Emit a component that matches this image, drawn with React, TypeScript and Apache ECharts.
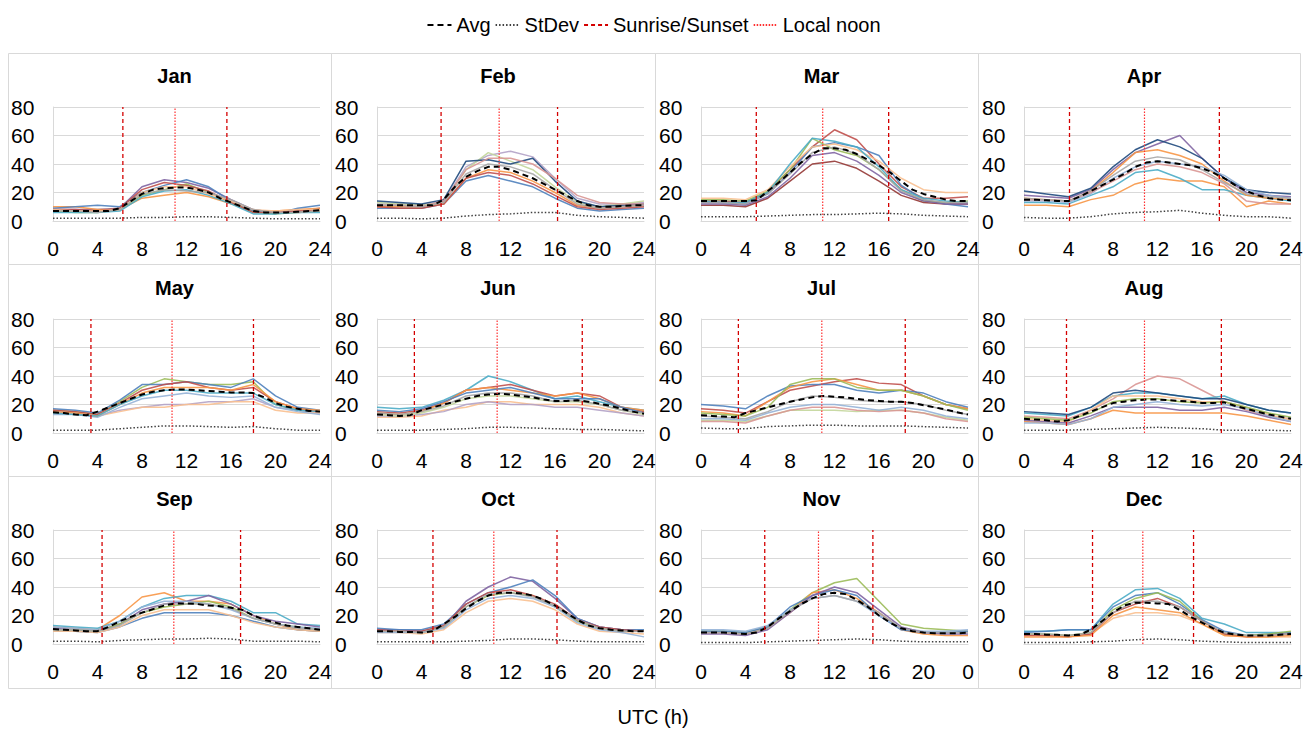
import React, { useEffect, useRef } from 'react';
import * as echarts from 'echarts';

// ---------- data ----------
const MONTHS = ['Jan', 'Feb', 'Mar', 'Apr', 'May', 'Jun', 'Jul', 'Aug', 'Sep', 'Oct', 'Nov', 'Dec'];
const HOURS_1H = [0, 1, 2, 3, 4, 5, 6, 7, 8, 9, 10, 11, 12, 13, 14, 15, 16, 17, 18, 19, 20, 21, 22, 23, 24];
const HOURS_2H = [0, 2, 4, 6, 8, 10, 12, 14, 16, 18, 20, 22, 24];

const SUNRISE = [6.28, 5.76, 4.97, 4.09, 3.41, 3.36, 3.36, 3.82, 4.41, 5.03, 5.73, 6.16];
const SUNSET = [15.63, 16.23, 16.87, 17.56, 18.02, 18.45, 18.36, 17.74, 16.86, 16.18, 15.45, 15.24];
const LOCAL_NOON = [10.97, 10.98, 10.94, 10.83, 10.7, 10.8, 10.86, 10.83, 10.86, 10.5, 10.56, 10.68];

const X_TICKS_STD = ['0', '4', '8', '12', '16', '20', '24'];
const X_TICKS_WRAP = ['0', '4', '8', '12', '16', '20', '0'];
const Y_TICKS = [0, 20, 40, 60, 80];

const AVG_BY_MONTH = [
  [7, 7, 7, 7, 7, 7, 9, 14, 19, 22, 23, 23.5, 23.5, 22, 20, 16, 13, 10, 7, 6, 6, 6, 6.5, 7, 7.5],
  [11, 11, 11, 11, 11, 11, 15, 24, 31, 35, 38, 38, 36, 33, 30, 26, 22, 18, 14, 11, 10, 10, 10.5, 11, 11],
  [14, 14, 14, 14, 14, 14.5, 21, 27, 34, 41, 47, 51, 51, 50, 47, 43, 39, 34, 28, 22, 19, 17, 15, 14, 14],
  [15, 15, 14.5, 14, 14, 17, 21, 25, 29, 33, 38, 41, 42, 41, 40, 39, 37, 34, 30, 25, 21, 18, 16, 15, 14.5],
  [14.5, 14, 13, 12.5, 15, 18, 21, 24, 27, 29, 30, 30.5, 30.5, 30, 29.5, 29, 28.5, 28.5, 28, 25, 21, 18.5, 17, 15.5, 15],
  [13, 12.5, 12, 12.5, 16, 18, 20, 22, 24, 26, 27, 27.5, 27, 26, 25, 23.5, 22.5, 22.5, 23, 22, 20.5, 19, 17, 15, 13.5],
  [12.5, 12, 11.5, 11, 14, 16, 18, 20, 22, 23.5, 25, 26, 25.5, 25, 24, 23, 22.5, 22, 22, 21, 19.5, 18, 16.5, 14.5, 13],
  [10, 9.5, 9, 8, 9, 12, 15, 18, 21, 22, 23, 23.5, 23.5, 23, 22.5, 22, 21, 21, 21.5, 19, 17, 15, 13, 11.5, 10],
  [10.5, 10, 9.5, 9, 9, 12, 16, 19, 22, 24.5, 27, 28.5, 28.5, 28, 27, 26.5, 25.5, 24, 20, 17, 15, 13, 12, 11, 10],
  [9, 9, 8.5, 8.5, 8, 9, 14, 19, 25, 30, 34, 36, 36, 35.5, 34, 31, 27, 22, 17, 13, 11, 10, 9.5, 9, 9],
  [8, 8, 8, 7.5, 7, 8, 12, 18, 23, 28, 32, 35, 36, 35, 31, 26, 20, 15, 11, 9, 8, 7.5, 7.5, 7.5, 8],
  [7, 7, 6.5, 6.5, 6, 6.5, 10, 16, 22, 27, 29, 29, 28.5, 28, 24, 19, 15, 11, 8, 6.5, 6, 6, 6, 6.5, 7],
];

const STDEV_BY_MONTH = [
  [2, 2, 2, 2, 2.5, 2.5, 3, 3, 2.5, 2, 1.5, 1.5, 1.5],
  [2, 2, 1.5, 2, 3.5, 4.5, 5, 6, 6, 4, 3, 2.5, 2],
  [3, 3, 3, 3.5, 4, 4.5, 4.5, 5, 5.5, 5, 4, 3.5, 3],
  [2.5, 2, 2, 3, 5, 6, 6.5, 7.5, 5.5, 4, 3, 3, 2],
  [2, 2, 2, 3, 4, 5, 5, 4.5, 4, 4.5, 3, 2, 2],
  [2, 2, 2, 2.5, 3, 4, 4, 3.5, 3, 2.5, 2.5, 2, 1.5],
  [3.5, 3, 3, 4.5, 5, 5.5, 5.5, 5, 5, 5, 4.5, 4, 3.5],
  [2, 2, 2, 2.5, 3, 3.5, 4, 3.5, 3, 2, 2, 2, 1.5],
  [2, 2, 1.5, 2.5, 3, 3.5, 3.5, 4, 3.5, 2, 2, 2, 1.5],
  [1.5, 1.5, 1.5, 1.5, 2, 2.5, 3.5, 3.5, 3, 2, 1.5, 1.5, 1.5],
  [1, 1, 1, 1.5, 2, 2.5, 3, 3.5, 3, 2, 1.5, 1.5, 1.5],
  [1, 1, 1, 1.5, 2, 3, 3.5, 3, 2, 1.5, 1, 1, 1],
];

// daily profiles (values at HOURS_2H)
const DAYS_JAN = [
  [8, 8, 8, 9, 24, 29, 27, 23, 15, 8, 6, 7, 9],
  [10, 10, 8, 8, 16, 18, 20, 17, 12, 7, 7, 8, 9],
  [9, 10, 11, 10, 20, 25, 29, 24, 14, 7, 5, 9, 11],
  [7, 6, 6, 8, 18, 22, 26, 20, 13, 6, 5, 6, 7],
  [8, 8, 7, 9, 22, 27, 25, 21, 13, 6, 6, 7, 8],
  [6, 6, 6, 7, 17, 21, 22, 18, 12, 5, 5, 6, 6],
  [8, 7, 7, 8, 20, 24, 24, 19, 14, 8, 7, 8, 8],
  [7, 7, 6, 8, 19, 22, 21, 20, 15, 8, 6, 6, 7],
];
const DAYS_FEB = [
  [12, 12, 11, 14, 38, 46, 49, 45, 30, 16, 12, 12, 13],
  [9, 9, 9, 12, 28, 32, 28, 24, 16, 9, 7, 8, 9],
  [13, 12, 11, 13, 36, 48, 42, 36, 24, 13, 10, 12, 14],
  [10, 10, 10, 12, 30, 36, 34, 28, 20, 11, 9, 10, 11],
  [14, 13, 12, 15, 42, 43, 40, 44, 28, 14, 10, 11, 12],
  [11, 11, 10, 14, 36, 44, 44, 40, 30, 18, 13, 12, 12],
  [10, 9, 9, 12, 30, 34, 32, 26, 18, 10, 8, 9, 10],
  [11, 11, 10, 13, 33, 40, 38, 33, 22, 12, 9, 10, 11],
];
const DAYS_MAR = [
  [14, 14, 13, 20, 36, 52, 64, 57, 40, 24, 16, 16, 17],
  [11, 11, 10, 16, 28, 40, 42, 37, 28, 18, 13, 12, 12],
  [13, 13, 12, 19, 34, 52, 55, 52, 46, 25, 15, 12, 10],
  [15, 15, 14, 21, 36, 58, 50, 46, 36, 22, 14, 13, 14],
  [16, 16, 15, 22, 38, 52, 54, 50, 42, 30, 22, 20, 20],
  [14, 13, 13, 20, 40, 58, 56, 52, 38, 22, 16, 14, 13],
  [12, 12, 11, 17, 30, 46, 48, 42, 32, 20, 14, 12, 12],
  [13, 13, 12, 19, 33, 48, 52, 47, 36, 21, 15, 13, 13],
];
const DAYS_APR = [
  [18, 17, 16, 22, 36, 48, 54, 60, 44, 30, 20, 18, 17],
  [11, 11, 10, 15, 18, 26, 30, 28, 28, 24, 10, 14, 12],
  [21, 19, 17, 23, 38, 50, 57, 52, 44, 30, 22, 20, 19],
  [13, 13, 12, 18, 24, 34, 36, 30, 22, 22, 18, 16, 14],
  [16, 15, 14, 21, 34, 48, 50, 46, 40, 28, 18, 16, 15],
  [14, 14, 13, 19, 30, 38, 42, 40, 38, 32, 22, 18, 16],
  [15, 15, 14, 20, 28, 36, 40, 38, 34, 26, 14, 12, 12],
  [16, 15, 14, 21, 32, 42, 45, 43, 36, 27, 19, 17, 16],
];
const DAYS_MAY = [
  [16, 15, 13, 22, 32, 38, 36, 34, 34, 36, 20, 16, 15],
  [15, 14, 12, 16, 18, 20, 20, 22, 22, 24, 18, 16, 14],
  [17, 16, 14, 23, 34, 34, 36, 34, 32, 38, 26, 18, 16],
  [14, 13, 12, 15, 18, 18, 20, 20, 22, 22, 16, 14, 14],
  [16, 15, 13, 21, 30, 34, 36, 32, 30, 32, 22, 17, 15],
  [13, 13, 11, 18, 24, 26, 28, 26, 25, 26, 18, 15, 13],
  [15, 14, 12, 20, 28, 32, 32, 32, 30, 34, 22, 17, 16],
  [14, 13, 12, 20, 26, 30, 30, 28, 28, 28, 20, 16, 15],
];
const DAYS_JUN = [
  [18, 17, 18, 23, 30, 40, 36, 30, 24, 26, 22, 18, 16],
  [11, 11, 12, 16, 18, 22, 22, 20, 20, 20, 18, 14, 12],
  [15, 14, 16, 21, 30, 32, 34, 30, 26, 28, 26, 18, 15],
  [14, 13, 15, 21, 30, 32, 30, 28, 26, 28, 24, 18, 16],
  [12, 12, 13, 15, 20, 22, 20, 20, 18, 18, 16, 14, 12],
  [16, 15, 17, 22, 28, 30, 32, 28, 24, 24, 24, 18, 14],
  [13, 12, 14, 18, 24, 26, 26, 24, 22, 22, 20, 16, 13],
  [14, 13, 15, 19, 26, 28, 28, 26, 22, 23, 20, 16, 14],
];
const DAYS_JUL = [
  [17, 16, 14, 22, 30, 33, 36, 38, 35, 34, 26, 20, 17],
  [9, 9, 8, 12, 16, 16, 16, 15, 16, 16, 14, 11, 9],
  [20, 19, 17, 26, 33, 34, 34, 30, 28, 30, 28, 22, 18],
  [15, 14, 12, 22, 32, 36, 38, 34, 30, 30, 26, 20, 17],
  [10, 10, 9, 14, 18, 20, 20, 18, 16, 18, 16, 12, 10],
  [14, 13, 12, 18, 34, 38, 38, 32, 30, 30, 26, 20, 16],
  [8, 8, 7, 12, 16, 18, 18, 16, 15, 16, 14, 10, 8],
  [12, 11, 10, 15, 22, 26, 25, 23, 22, 22, 20, 16, 13],
];
const DAYS_AUG = [
  [12, 11, 10, 16, 24, 34, 40, 38, 30, 22, 16, 12, 10],
  [8, 7, 6, 10, 16, 14, 14, 14, 14, 14, 12, 9, 6],
  [14, 13, 12, 18, 26, 28, 28, 26, 24, 26, 20, 16, 14],
  [15, 14, 13, 18, 28, 30, 28, 26, 24, 24, 20, 16, 14],
  [9, 8, 7, 12, 18, 18, 18, 16, 16, 18, 15, 11, 8],
  [10, 9, 8, 16, 26, 26, 26, 24, 22, 22, 18, 13, 9],
  [7, 7, 6, 10, 18, 20, 22, 20, 19, 20, 17, 12, 8],
  [11, 10, 9, 14, 22, 24, 24, 22, 21, 22, 18, 14, 11],
];
const DAYS_SEP = [
  [12, 11, 10, 20, 33, 36, 30, 30, 28, 20, 14, 10, 9],
  [9, 9, 8, 12, 18, 22, 22, 22, 20, 16, 12, 10, 9],
  [13, 12, 11, 16, 26, 32, 34, 34, 30, 22, 22, 14, 13],
  [11, 10, 9, 14, 24, 28, 30, 34, 28, 20, 16, 14, 12],
  [10, 10, 9, 14, 22, 26, 28, 30, 26, 18, 14, 12, 10],
  [12, 11, 10, 16, 26, 30, 30, 28, 24, 18, 14, 12, 11],
  [9, 9, 8, 12, 20, 24, 24, 24, 20, 15, 12, 10, 9],
  [10, 10, 9, 13, 22, 28, 28, 28, 25, 18, 14, 11, 10],
];
const DAYS_OCT = [
  [10, 10, 9, 12, 30, 40, 47, 44, 32, 18, 12, 10, 9],
  [11, 10, 10, 14, 28, 36, 40, 45, 34, 18, 12, 10, 10],
  [8, 8, 7, 10, 22, 30, 32, 30, 24, 14, 9, 8, 7],
  [9, 9, 8, 12, 26, 34, 36, 34, 26, 16, 11, 9, 9],
  [10, 9, 9, 13, 28, 36, 38, 34, 28, 17, 12, 10, 9],
  [8, 8, 8, 11, 24, 32, 34, 32, 26, 15, 10, 8, 5],
  [9, 9, 8, 12, 26, 35, 36, 33, 27, 17, 11, 9, 9],
];
const DAYS_NOV = [
  [9, 9, 8, 12, 24, 36, 43, 46, 30, 14, 11, 10, 9],
  [8, 8, 7, 11, 22, 36, 38, 32, 22, 10, 7, 6, 6],
  [9, 9, 8, 12, 26, 34, 38, 34, 20, 10, 8, 8, 9],
  [10, 10, 9, 13, 24, 32, 34, 30, 20, 11, 9, 9, 10],
  [7, 7, 6, 10, 22, 34, 40, 36, 24, 12, 8, 7, 7],
  [8, 8, 7, 11, 23, 32, 34, 30, 22, 11, 8, 8, 8],
];
const DAYS_DEC = [
  [9, 9, 10, 10, 28, 38, 39, 32, 18, 14, 8, 8, 8],
  [6, 6, 5, 7, 18, 22, 22, 20, 14, 6, 5, 5, 5],
  [8, 9, 10, 10, 26, 34, 36, 28, 17, 9, 6, 7, 8],
  [7, 7, 6, 8, 24, 32, 36, 30, 16, 7, 6, 7, 9],
  [6, 6, 5, 7, 22, 28, 32, 26, 16, 7, 5, 6, 7],
  [5, 5, 5, 6, 20, 26, 24, 22, 14, 6, 5, 5, 6],
  [7, 7, 6, 8, 22, 30, 30, 26, 16, 8, 6, 6, 7],
];
const DAYS_BY_MONTH = [DAYS_JAN, DAYS_FEB, DAYS_MAR, DAYS_APR, DAYS_MAY, DAYS_JUN, DAYS_JUL, DAYS_AUG, DAYS_SEP, DAYS_OCT, DAYS_NOV, DAYS_DEC];

// ---------- styles ----------
const PALETTE: Record<string, string> = {
  blue: '#4F81BD', red: '#C0504D', green: '#9BBB59', purple: '#8064A2', teal: '#4BACC6', orange: '#F79646',
  darkblue: '#1F497D', darkred: '#953735', lightblue: '#95B3D7', pink: '#D99694', lightgreen: '#C3D69B',
  lightpurple: '#B3A2C7', lightorange: '#FAC090', gray: '#A6A6A6',
};
const LINE_COLORS = [
  ['purple', 'orange', 'blue', 'green', 'red', 'teal', 'lightorange', 'gray'],
  ['lightpurple', 'blue', 'lightgreen', 'orange', 'darkblue', 'pink', 'red', 'gray'],
  ['red', 'darkred', 'blue', 'green', 'lightorange', 'teal', 'purple', 'gray'],
  ['purple', 'orange', 'darkblue', 'teal', 'orange', 'lightblue', 'pink', 'gray'],
  ['green', 'lightpurple', 'blue', 'lightorange', 'red', 'lightblue', 'orange', 'teal'],
  ['teal', 'lightorange', 'red', 'orange', 'lightpurple', 'blue', 'lightgreen', 'gray'],
  ['red', 'lightgreen', 'blue', 'orange', 'lightblue', 'green', 'pink', 'gray'],
  ['pink', 'orange', 'teal', 'darkblue', 'purple', 'lightorange', 'lightblue', 'green'],
  ['orange', 'blue', 'teal', 'purple', 'green', 'lightblue', 'lightorange', 'gray'],
  ['purple', 'blue', 'lightorange', 'green', 'red', 'lightblue', 'gray'],
  ['green', 'orange', 'blue', 'lightblue', 'purple', 'gray'],
  ['teal', 'lightorange', 'blue', 'green', 'red', 'orange', 'gray'],
];

const FONT = "'Liberation Sans', Arial, sans-serif";
const COL_LEFT = [53, 377, 701, 1024];
const ROW_TOP = [107, 319, 530];
const PLOT_W = 267;
const PLOT_H = 114;
const PANEL_X = [8, 331, 655, 978, 1300];
const PANEL_Y = [53, 264, 476, 688];

function refLine(name: string, i: number, data: number[][], color: string, width: number, type: any, z: number) {
  return {
    name, type: 'line', xAxisIndex: i, yAxisIndex: i, symbol: 'none', silent: true, z, data,
    lineStyle: { width, color, type },
    itemStyle: { color, opacity: 0 },
  };
}

function buildOption() {
  const grid: any[] = [];
  const xAxis: any[] = [];
  const yAxis: any[] = [];
  const title: any[] = [];
  const series: any[] = [];
  const graphic: any[] = [];

  MONTHS.forEach((m, i) => {
    const col = i % 4;
    const row = Math.floor(i / 4);
    const ticks = i === 6 || i === 10 ? X_TICKS_WRAP : X_TICKS_STD;
    grid.push({ left: COL_LEFT[col], top: ROW_TOP[row], width: PLOT_W, height: PLOT_H });
    xAxis.push({
      type: 'value', gridIndex: i, min: 0, max: 24, interval: 4,
      axisLine: { show: true, lineStyle: { color: '#d9d9d9', width: 1 } },
      axisTick: { show: false }, splitLine: { show: false },
      axisLabel: {
        fontSize: 21, color: '#000', fontFamily: FONT, margin: 17, showMinLabel: true, showMaxLabel: true,
        formatter: (v: number) => ticks[Math.round(v / 4)] ?? '',
      },
    });
    yAxis.push({
      type: 'value', gridIndex: i, min: Y_TICKS[0], max: Y_TICKS[Y_TICKS.length - 1], interval: 20,
      axisLine: { show: true, lineStyle: { color: '#d9d9d9', width: 1 } },
      axisTick: { show: false },
      splitLine: { show: true, lineStyle: { color: '#d9d9d9', width: 1 } },
      axisLabel: { fontSize: 21, color: '#000', fontFamily: FONT, margin: 42, align: 'left' },
    });
    const cx = (PANEL_X[col] + PANEL_X[col + 1]) / 2;
    title.push({
      text: m, left: cx, top: ROW_TOP[row] - 46, textAlign: 'center',
      textStyle: { fontSize: 20, fontWeight: 'bold', color: '#000', fontFamily: FONT },
    });

    DAYS_BY_MONTH[i].forEach((vals, k) => {
      series.push({
        type: 'line', xAxisIndex: i, yAxisIndex: i, symbol: 'none', silent: true, z: 2,
        data: HOURS_2H.map((h, j) => [h, vals[j]]),
        lineStyle: { width: 1.5, color: PALETTE[LINE_COLORS[i][k]], opacity: 0.9 },
      });
    });
    series.push(refLine('Avg', i, HOURS_1H.map((h, j) => [h, AVG_BY_MONTH[i][j]]), '#000', 2, [6, 4], 6));
    series.push(refLine('StDev', i, HOURS_2H.map((h, j) => [h, STDEV_BY_MONTH[i][j]]), '#404040', 1.5, [1.5, 2], 6));
    [SUNRISE[i], SUNSET[i]].forEach((t) => {
      series.push(refLine('Sunrise/Sunset', i, [[t, 0], [t, 80]], '#D40000', 1.3, [4, 3], 7));
    });
    series.push(refLine('Local noon', i, [[LOCAL_NOON[i], 0], [LOCAL_NOON[i], 80]], '#FF3030', 1.2, [1.5, 1.5], 7));
  });

  for (let r = 0; r < 3; r++) {
    for (let c = 0; c < 4; c++) {
      graphic.push({
        type: 'rect', silent: true,
        shape: { x: PANEL_X[c] + 0.5, y: PANEL_Y[r] + 0.5, width: PANEL_X[c + 1] - PANEL_X[c], height: PANEL_Y[r + 1] - PANEL_Y[r] },
        style: { fill: 'none', stroke: '#d9d9d9', lineWidth: 1 },
      });
    }
  }
  graphic.push({
    type: 'text', silent: true, x: 653, y: 717,
    style: { text: 'UTC (h)', fontSize: 20, fill: '#000', fontFamily: FONT, textAlign: 'center', textVerticalAlign: 'middle' },
  });

  return {
    animation: false,
    backgroundColor: '#fff',
    title,
    legend: {
      data: ['Avg', 'StDev', 'Sunrise/Sunset', 'Local noon'],
      top: 10, left: 'center', itemWidth: 24, itemHeight: 12, itemGap: 4,
      itemStyle: { opacity: 0 },
      textStyle: { fontSize: 20, color: '#000', fontFamily: FONT },
    },
    grid, xAxis, yAxis, series, graphic,
  };
}

export default function App() {
  const ref = useRef<HTMLDivElement>(null);
  useEffect(() => {
    const chart = echarts.init(ref.current!, null, { renderer: 'svg' });
    chart.setOption(buildOption() as any);
    return () => chart.dispose();
  }, []);
  return <div ref={ref} style={{ position: 'fixed', left: 0, top: 0, width: 1307, height: 729 }} />;
}
